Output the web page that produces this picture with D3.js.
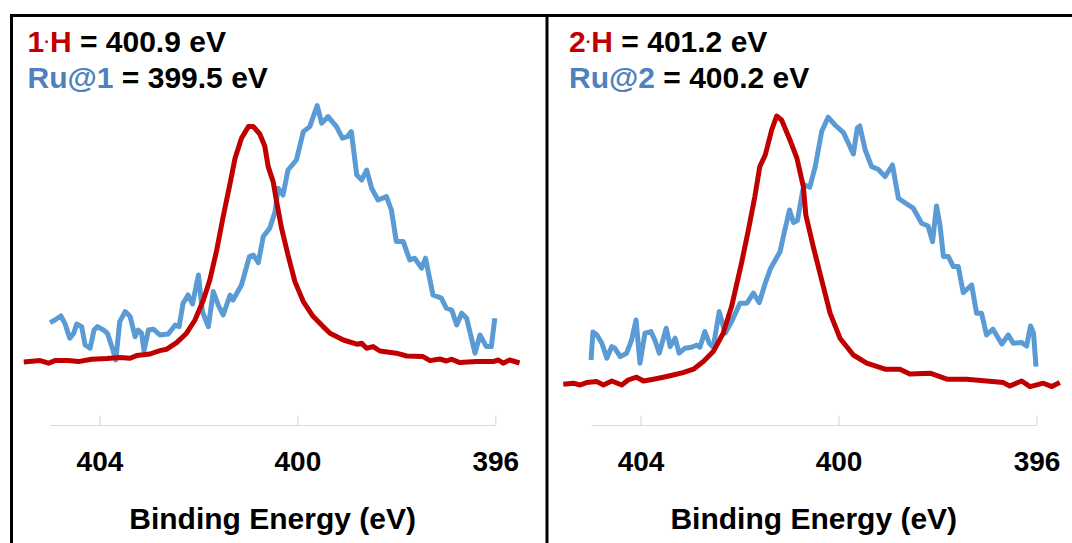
<!DOCTYPE html>
<html><head><meta charset="utf-8">
<script src="https://cdn.jsdelivr.net/npm/d3@7"></script>
<style>
body{margin:0;background:#fff}
svg{display:block}
text{font-family:"Liberation Sans",Arial,Helvetica,sans-serif;font-weight:bold}
</style>
</head><body>
<svg id="chart" width="1072" height="543"></svg>
<script>
// ---------- DATA (binding energy eV, intensity a.u.) ----------
const tickValues = [404, 400, 396];
const tickLabels = ["404", "400", "396"];
const energyDomain = [405, 396];
const intensityDomain = [0, 160];
const axisTitle = "Binding Energy (eV)";

const panel1Compounds = ["1", "Ru@1"];
const panel1Peaks = ["400.9", "399.5"];
const panel2Compounds = ["2", "Ru@2"];
const panel2Peaks = ["401.2", "400.2"];

const h1Spectrum = [
[405.53,31.5],[405.20,32.2],[405.03,30.9],[404.90,32.2],[404.63,32.2],[404.43,31.7],[404.16,32.9],
[403.85,33.2],[403.59,33.7],[403.38,33.4],[403.25,34.7],[402.98,35.5],[402.78,37.2],[402.64,37.9],
[402.44,41.2],[402.24,45.9],[402.07,52.5],[401.90,62.5],[401.77,72.5],[401.63,87.5],[401.50,104.2],
[401.36,120.9],[401.26,133.4],[401.13,143.4],[400.99,149.2],[400.89,149.2],[400.76,145.5],[400.66,139.5],
[400.59,129.2],[400.49,121.7],[400.42,111.7],[400.32,98.4],[400.19,85],[400.05,71.7],[399.88,61.7],
[399.68,54.2],[399.48,49.2],[399.34,45.9],[399.07,42.5],[398.80,40.4],[398.70,40.9],[398.60,38.4],
[398.47,39.2],[398.33,37],[398.00,35.9],[397.79,34.5],[397.46,34.2],[397.32,32.2],[397.12,33],
[396.99,32],[396.88,32.9],[396.72,31.2],[396.38,31.7],[396.04,31.7],[395.94,32.5],[395.84,30.9],
[395.71,32.5],[395.51,31]
];

const ru1Spectrum = [
[405.00,51.2],[404.90,52.5],[404.78,54.5],[404.70,50.9],[404.60,43.4],[404.52,45.9],[404.46,50.5],
[404.36,49.2],[404.29,40],[404.19,38.4],[404.11,47.5],[404.04,49.2],[403.92,47.5],[403.84,45.9],
[403.75,39.2],[403.67,32.5],[403.59,51.7],[403.48,56.7],[403.38,54.2],[403.28,44.2],[403.22,47.5],
[403.15,45.9],[403.10,37.2],[403.01,47.5],[402.91,47.9],[402.78,45],[402.61,45.5],[402.47,50],
[402.39,49.2],[402.31,60.9],[402.21,65],[402.12,60.5],[402.00,75],[401.92,56.7],[401.80,49.2],
[401.70,66.7],[401.60,60],[401.50,55],[401.36,65],[401.30,62.5],[401.13,70],[400.97,84.2],
[400.89,85],[400.79,81.2],[400.69,94.2],[400.56,98.4],[400.45,106.7],[400.39,118.4],[400.29,115],
[400.19,127.5],[400.02,132.5],[399.88,146.7],[399.75,149.2],[399.60,159.7],[399.51,150.9],[399.38,154.2],
[399.21,149.2],[399.09,143.4],[398.99,144.2],[398.91,146.7],[398.80,125],[398.70,122.5],[398.60,127.5],
[398.50,118.4],[398.37,112.5],[398.20,114.2],[398.10,107.5],[398.00,91.7],[397.86,91.7],[397.73,82.5],
[397.63,83.4],[397.49,78.4],[397.41,83.4],[397.26,65],[397.09,63.4],[396.99,58.4],[396.88,57.5],
[396.78,50],[396.68,55.9],[396.58,53.4],[396.41,35.9],[396.31,45],[396.18,39.2],[396.08,39.2],[396.01,53.4]
];

const h2Spectrum = [
[405.56,20.4],[405.36,20.9],[405.22,20],[405.09,21.2],[404.88,21.7],[404.75,20],[404.58,22],
[404.38,20],[404.25,22.5],[404.08,23.9],[403.94,22],[403.74,22.9],[403.54,23.9],[403.34,25],
[403.14,26.2],[402.93,27.9],[402.73,31.7],[402.53,36.7],[402.33,45.9],[402.16,59.2],[401.96,80.9],
[401.82,97.5],[401.69,114.2],[401.59,129.2],[401.48,135],[401.35,147.5],[401.25,154.5],[401.15,152.5],
[400.98,142.5],[400.84,133.4],[400.71,119.2],[400.66,105],[400.51,89.2],[400.34,72.5],[400.17,55.9],
[399.97,43.4],[399.70,35],[399.43,30.9],[399.06,27.9],[398.76,27.9],[398.56,25.5],[398.15,25.9],
[397.81,22.9],[397.41,22.9],[397.01,22],[396.67,21.2],[396.54,19.5],[396.30,22],[396.13,19.2],
[395.86,20.9],[395.69,19.2],[395.53,21.2]
];

const ru2Spectrum = [
[405.00,32.5],[404.96,46.5],[404.88,45],[404.78,40.9],[404.68,33.4],[404.58,39.2],[404.52,38.4],
[404.41,34.2],[404.28,35.9],[404.18,42.5],[404.09,52.5],[404.01,30.9],[403.91,45.9],[403.79,46.7],
[403.71,42.5],[403.62,35.9],[403.48,48.4],[403.40,39.2],[403.30,43.4],[403.22,35.9],[403.10,38.4],
[402.97,38.9],[402.86,40],[402.80,38.9],[402.70,46.7],[402.61,40.9],[402.53,38.9],[402.41,56.7],
[402.29,45.9],[402.16,51.7],[401.99,60.9],[401.85,60.9],[401.72,65.9],[401.60,61.2],[401.48,70.9],
[401.37,78.4],[401.18,86.7],[401.10,95.9],[400.99,107.5],[400.91,101.2],[400.83,102.2],[400.72,117.5],
[400.68,120],[400.58,118.9],[400.47,129.2],[400.34,146.7],[400.21,153.9],[400.07,150],[399.90,146.2],
[399.80,140.9],[399.70,135.5],[399.62,148.4],[399.57,149.5],[399.46,137.5],[399.33,129.2],[399.20,127.9],
[399.06,124.2],[398.91,130],[398.79,113.4],[398.62,110.5],[398.49,108.4],[398.32,100.9],[398.19,99.5],
[398.10,91.7],[398.02,109.5],[397.95,100],[397.88,84.2],[397.78,84.2],[397.68,79.2],[397.58,79.2],
[397.48,66.2],[397.31,70],[397.21,55.9],[397.11,55.9],[397.01,45],[396.88,47.9],[396.70,40.5],
[396.57,45],[396.47,40.9],[396.30,41.2],[396.20,39.5],[396.12,49.5],[396.06,45.9],[396.01,29.2]
];

// ---------- STYLE / LAYOUT ----------
const RED = "#C00000", BLUE_LINE = "#5B9BD5", BLUE_TEXT = "#4F81BD";
const svg = d3.select("#chart");

const panels = [
  {x: [50, 495.3], legendX: 27.6, compounds: panel1Compounds, peaks: panel1Peaks, ru: ru1Spectrum, h: h1Spectrum},
  {x: [591, 1036.5], legendX: 569, compounds: panel2Compounds, peaks: panel2Peaks, ru: ru2Spectrum, h: h2Spectrum}
];
const axisY = 425;

// frame
svg.append("line").attr("x1", 10).attr("x2", 1072).attr("y1", 15.5).attr("y2", 15.5)
  .attr("stroke", "#000").attr("stroke-width", 3);
svg.append("line").attr("x1", 11.5).attr("x2", 11.5).attr("y1", 14).attr("y2", 543)
  .attr("stroke", "#000").attr("stroke-width", 3);
svg.append("line").attr("x1", 547).attr("x2", 547).attr("y1", 14).attr("y2", 543)
  .attr("stroke", "#000").attr("stroke-width", 3);

panels.forEach(p => {
  const x = d3.scaleLinear().domain(energyDomain).range(p.x);
  const y = d3.scaleLinear().domain(intensityDomain).range([axisY, 105]);
  const g = svg.append("g");

  // axis
  const axis = d3.axisBottom(x).tickValues(tickValues)
    .tickFormat((d, i) => tickLabels[i]).tickSizeInner(-9.5).tickSizeOuter(0).tickPadding(26);
  const ag = g.append("g").attr("transform", `translate(0,${axisY})`).call(axis);
  ag.select(".domain").attr("stroke", "#D9D9D9").attr("stroke-width", 1.2);
  ag.selectAll(".tick line").attr("stroke", "#D9D9D9").attr("stroke-width", 1.2);
  ag.selectAll(".tick text").attr("fill", "#000").style("font-size", "28px")
    .style("font-family", '"Liberation Sans",Arial,sans-serif').style("font-weight", "bold");

  g.append("text").attr("x", (p.x[0] + p.x[1]) / 2).attr("y", 529)
    .attr("text-anchor", "middle").style("font-size", "30px").attr("fill", "#000").text(axisTitle);

  const line = d3.line().x(d => x(d[0])).y(d => y(d[1])).curve(d3.curveLinear);
  g.append("path").datum(p.ru).attr("d", line).attr("fill", "none")
    .attr("stroke", BLUE_LINE).attr("stroke-width", 5).attr("stroke-linejoin", "round").attr("stroke-linecap", "butt");
  g.append("path").datum(p.h).attr("d", line).attr("fill", "none")
    .attr("stroke", RED).attr("stroke-width", 5).attr("stroke-linejoin", "round").attr("stroke-linecap", "butt");

  // legend
  const t1 = g.append("text").attr("x", p.legendX).attr("y", 51.5).style("font-size", "30px");
  t1.append("tspan").attr("fill", RED).text(p.compounds[0]);
  t1.append("tspan").attr("fill", RED).style("font-size", "17px").attr("dy", -5).text("\u00B7");
  t1.append("tspan").attr("fill", RED).attr("dy", 5).text("H");
  t1.append("tspan").attr("fill", "#000").text(" = " + p.peaks[0] + " eV");

  const t2 = g.append("text").attr("x", p.legendX).attr("y", 88).style("font-size", "30px");
  t2.append("tspan").attr("fill", BLUE_TEXT).text(p.compounds[1]);
  t2.append("tspan").attr("fill", "#000").text(" = " + p.peaks[1] + " eV");
});
</script>
</body></html>
